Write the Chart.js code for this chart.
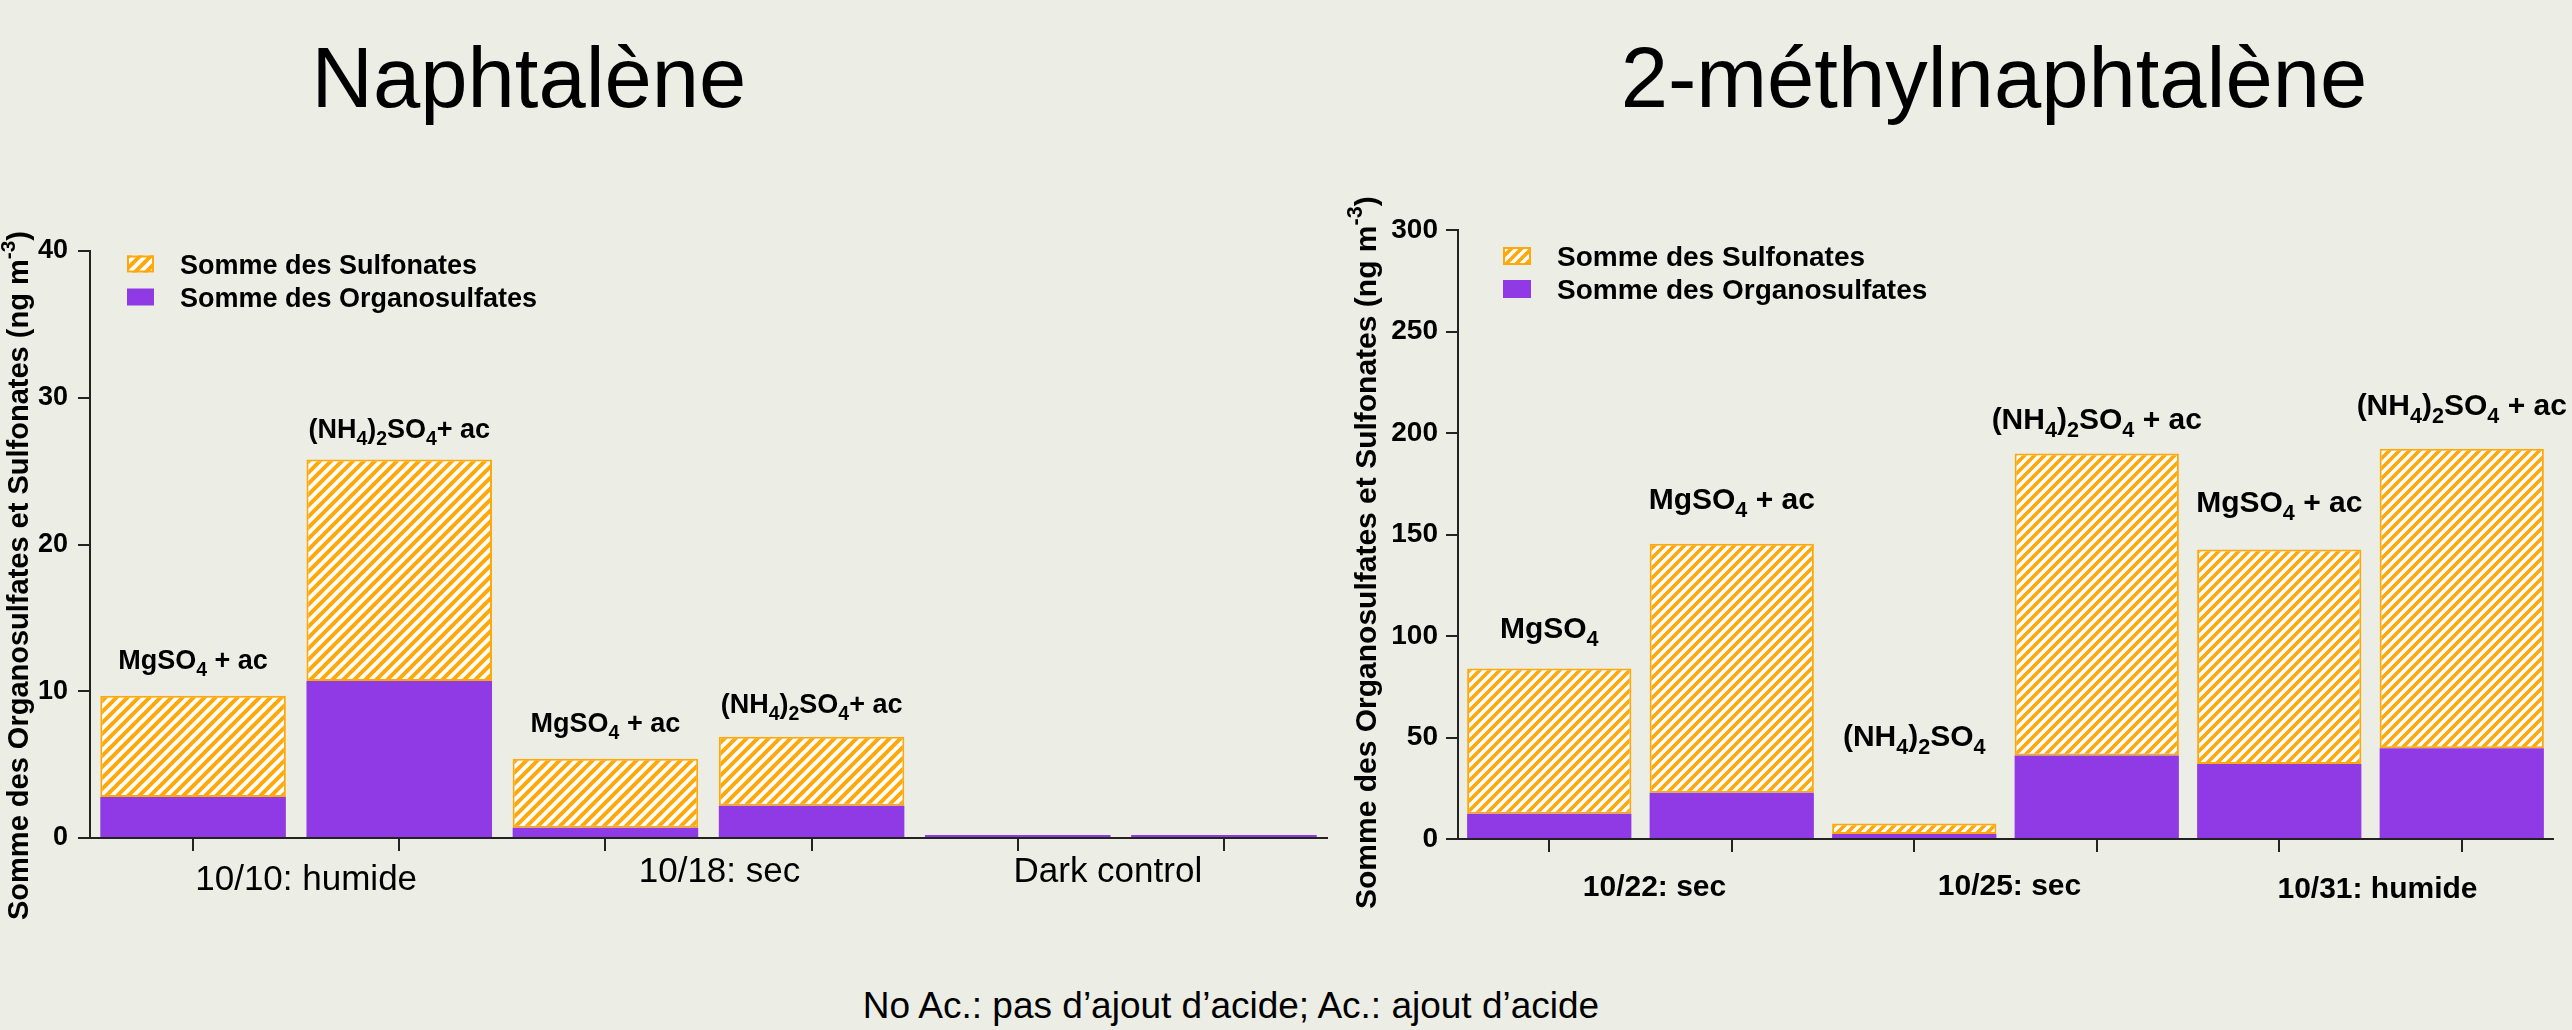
<!DOCTYPE html>
<html><head><meta charset="utf-8">
<script src="https://cdn.jsdelivr.net/npm/chart.js@4/dist/chart.umd.min.js"></script>
<style>
html,body{margin:0;padding:0;background:#ECEEE6;width:2572px;height:1030px;overflow:hidden;font-family:"Liberation Sans",Arial,sans-serif;}
.t{position:absolute;white-space:nowrap;line-height:1;color:#000;transform:translateX(-50%);}
#c1{position:absolute;left:0;top:0;width:1340px;height:1030px;}
#c2{position:absolute;left:1340px;top:0;width:1232px;height:1030px;}
</style></head>
<body>
<div class="t" style="left:529px;top:35px;font-size:85px">Naphtalène</div>
<div class="t" style="left:1994px;top:35px;font-size:85px">2-méthylnaphtalène</div>
<div class="t" style="left:1231px;top:987px;font-size:37px">No Ac.: pas d’ajout d’acide; Ac.: ajout d’acide</div>
<canvas id="c1" width="1340" height="1030"></canvas>
<canvas id="c2" width="1232" height="1030"></canvas>
<script>
// ---------- DATA ----------
const seriesNames = ['Somme des Organosulfates', 'Somme des Sulfonates'];
const yAxisTitle = 'Somme des Organosulfates et Sulfonates (ng m^{-3})';

const naphCategories = ['10/10 MgSO4 + ac', '10/10 (NH4)2SO4 + ac', '10/18 MgSO4 + ac', '10/18 (NH4)2SO4 + ac', 'Dark control 1', 'Dark control 2'];
const naphBarLabels = ['MgSO_4 + ac', '(NH_4)_2SO_4+ ac', 'MgSO_4 + ac', '(NH_4)_2SO_4+ ac', '', ''];
const naphGroups = ['10/10: humide', '10/18: sec', 'Dark control'];
const naphOrgano = [2.8, 10.7, 0.7, 2.2, 0.2, 0.2];
const naphSulfo = [6.9, 15.1, 4.7, 4.7, 0, 0];
const naphTicks = [0, 10, 20, 30, 40];

const methCategories = ['10/22 MgSO4', '10/22 MgSO4 + ac', '10/25 (NH4)2SO4', '10/25 (NH4)2SO4 + ac', '10/31 MgSO4 + ac', '10/31 (NH4)2SO4 + ac'];
const methBarLabels = ['MgSO_4', 'MgSO_4 + ac', '(NH_4)_2SO_4', '(NH_4)_2SO_4 + ac', 'MgSO_4 + ac', '(NH_4)_2SO_4 + ac'];
const methGroups = ['10/22: sec', '10/25: sec', '10/31: humide'];
const methOrgano = [12.4, 22.8, 2.5, 41.1, 37.0, 44.7];
const methSulfo = [71.6, 122.7, 5.1, 148.8, 105.6, 147.6];
const methTicks = [0, 50, 100, 150, 200, 250, 300];

// ---------- STYLE ----------
const FONT = '"Liberation Sans", Arial, sans-serif';
const ORANGE = '#FFA80A';
const PURPLE = '#8F3AE4';
const AXIS = '#222222';

function hatch(s){
  const c=document.createElement('canvas'); c.width=s; c.height=s;
  const g=c.getContext('2d');
  g.fillStyle='#ffffff'; g.fillRect(0,0,s,s);
  g.strokeStyle=ORANGE; g.lineWidth=s*0.36; g.lineCap='square';
  g.beginPath();
  for(const k of [-s,0,s]){ g.moveTo(k,s); g.lineTo(k+s,0); }
  g.stroke();
  return g.createPattern(c,'repeat');
}

function parseRich(s){
  const segs=[]; let cur=''; let i=0;
  while(i<s.length){
    const ch=s[i];
    if(ch==='_'||ch==='^'){
      if(cur){segs.push({t:cur,m:0});cur='';}
      let t;
      if(s[i+1]==='{'){const j=s.indexOf('}',i); t=s.slice(i+2,j); i=j+1;}
      else {t=s[i+1]; i+=2;}
      segs.push({t:t,m:ch==='_'?-1:1});
    } else {cur+=ch;i++;}
  }
  if(cur)segs.push({t:cur,m:0});
  return segs;
}
function drawRich(ctx,s,x,capMid,size,weight,align){
  const segs=parseRich(s); const small=size*0.72;
  let w=0;
  segs.forEach(g=>{ctx.font=`${weight} ${g.m?small:size}px ${FONT}`; g.w=ctx.measureText(g.t).width; w+=g.w;});
  let cx = align==='center' ? x-w/2 : x;
  const base=capMid+size*0.358;
  ctx.textAlign='left'; ctx.textBaseline='alphabetic';
  segs.forEach(g=>{
    ctx.font=`${weight} ${g.m?small:size}px ${FONT}`;
    const y = g.m===-1 ? base+size*0.25 : (g.m===1 ? base-size*0.45 : base);
    ctx.fillText(g.t,cx,y); cx+=g.w;
  });
}

const overlay={
  id:'overlay',
  afterDraw(chart){
    const o=chart.options.plugins.overlay; const ctx=chart.ctx;
    const metaS=chart.getDatasetMeta(1);
    const xs=chart.scales.x;
    ctx.save(); ctx.fillStyle='#000';
    o.barLabels.forEach((s,i)=>{
      if(!s) return;
      const el=metaS.data[i];
      drawRich(ctx,s,el.x,el.y-o.labelOffsets[i],o.labelSize,'bold','center');
    });
    o.groups.forEach((g,i)=>{
      const cx=(xs.getPixelForValue(2*i)+xs.getPixelForValue(2*i+1))/2+o.groupDx[i];
      drawRich(ctx,g,cx,o.groupY[i],o.groupSize,o.groupWeight,'center');
    });
    // legend
    const L=o.legend;
    const rows=[{fill:chart.data.datasets[1].backgroundColor,border:true,name:chart.data.datasets[1].label},
                {fill:PURPLE,border:false,name:chart.data.datasets[0].label}];
    rows.forEach((r,i)=>{
      const y=L.y[i];
      ctx.fillStyle=r.fill; ctx.fillRect(L.sx,y-L.sh/2,L.sw,L.sh);
      if(r.border){ctx.strokeStyle=ORANGE; ctx.lineWidth=2; ctx.strokeRect(L.sx+1,y-L.sh/2+1,L.sw-2,L.sh-2);}
      ctx.fillStyle='#000';
      drawRich(ctx,r.name,L.tx,y,L.size,'bold','left');
    });
    // y title
    const T=o.yTitle;
    ctx.translate(T.x,T.y); ctx.rotate(-Math.PI/2);
    drawRich(ctx,yAxisTitle,0,0,T.size,'bold','left');
    ctx.restore();
  }
};

function makeChart(id,c){
  const ctx=document.getElementById(id).getContext('2d');
  return new Chart(ctx,{
    type:'bar',
    data:{labels:c.categories,datasets:[
      {label:seriesNames[0],data:c.organo,backgroundColor:PURPLE,borderWidth:0,barPercentage:0.9,categoryPercentage:1},
      {label:seriesNames[1],data:c.sulfo,backgroundColor:hatch(c.hatch),borderColor:ORANGE,borderWidth:2,borderSkipped:false,barPercentage:0.9,categoryPercentage:1}
    ]},
    options:{
      responsive:false,animation:false,devicePixelRatio:1,
      layout:{padding:{left:0,top:c.top,right:c.right,bottom:0}},
      plugins:{legend:{display:false},tooltip:{enabled:false},
        overlay:c.overlay},
      scales:{
        x:{stacked:true,offset:true,
          grid:{display:true,drawOnChartArea:false,drawTicks:true,tickLength:13,offset:false,color:AXIS,lineWidth:2},
          border:{display:true,color:AXIS,width:2},
          ticks:{display:false},
          afterFit(s){s.height=c.xHeight;}},
        y:{stacked:true,min:c.ticks[0],max:c.ticks[c.ticks.length-1],
          grid:{display:true,drawOnChartArea:false,drawTicks:true,tickLength:12,color:AXIS,lineWidth:2},
          border:{display:true,color:AXIS,width:2},
          ticks:{stepSize:c.ticks[1]-c.ticks[0],color:'#000',padding:c.tickPad,font:{family:FONT,size:c.tickSize,weight:'bold'}},
          afterFit(s){s.width=c.yWidth;}}
      }
    },
    plugins:[overlay]
  });
}

makeChart('c1',{
  categories:naphCategories,organo:naphOrgano,sulfo:naphSulfo,ticks:naphTicks,hatch:11,
  top:251,right:13,xHeight:192,yWidth:90,tickPad:10,tickSize:27,
  overlay:{barLabels:naphBarLabels,labelOffsets:[36,31,36,33,0,0],labelSize:27,
    groups:naphGroups,groupDx:[10,11,-13],groupY:[877,869,869],groupSize:35,groupWeight:'normal',
    legend:{sx:127,sw:27,sh:17,y:[264,297],tx:180,size:27},
    yTitle:{x:18,y:920,size:29}}
});
makeChart('c2',{
  categories:methCategories,organo:methOrgano,sulfo:methSulfo,ticks:methTicks,hatch:10,
  top:230,right:19,xHeight:191,yWidth:118,tickPad:8,tickSize:28,
  overlay:{barLabels:methBarLabels,labelOffsets:[41,45,88,35,48,44],labelSize:30,
    groups:methGroups,groupDx:[14,4,7],groupY:[885,884,887],groupSize:30,groupWeight:'bold',
    legend:{sx:163,sw:28,sh:18,y:[256,289],tx:217,size:28},
    yTitle:{x:25,y:909,size:30}}
});
</script>
</body></html>
